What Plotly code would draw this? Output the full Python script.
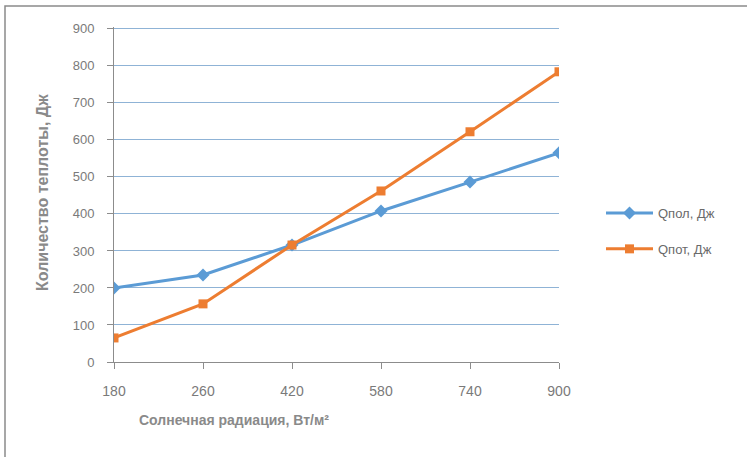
import plotly.graph_objects as go

# Solar radiation levels (category axis), W/m²
radiation = ["180", "260", "420", "580", "740", "900"]

# Heat values, J
q_useful = [200, 235, 316, 408, 486, 565]
q_loss = [65, 157, 316, 462, 622, 784]

series_names = ["Qпол, Дж", "Qпот, Дж"]
y_ticks = [0, 100, 200, 300, 400, 500, 600, 700, 800, 900]
y_max = 905

FONT = "Liberation Sans"
TEXT = "#7a7a7a"
AXIS = "#8c8c8c"
GRID = "#8fb3d6"

# plot area in pixels: x 114..559, y 27..362
L, R, T, B = 114, 559, 27, 362


def px_x(x):
    return (x - L) / (R - L)


def px_y(y):
    return (B - y) / (B - T)


fig = go.Figure()
fig.add_trace(go.Scatter(
    x=radiation, y=q_useful, name=series_names[0], mode="lines+markers",
    legendgroup="a",
    line=dict(color="#5b9bd5", width=3),
    marker=dict(symbol="diamond", size=10, color="#5b9bd5"),
))
fig.add_trace(go.Scatter(
    x=radiation, y=q_loss, name=series_names[1], mode="lines+markers",
    legendgroup="b",
    line=dict(color="#ed7d31", width=3),
    marker=dict(symbol="square", size=9, color="#ed7d31"),
))

fig.update_layout(
    width=747, height=457,
    margin=dict(l=L, r=747 - R, t=T, b=457 - B),
    paper_bgcolor="white", plot_bgcolor="white",
    font=dict(family=FONT, color=TEXT, size=12),
    showlegend=True,
    legend=dict(
        x=px_x(601), y=px_y(231), xanchor="left", yanchor="middle",
        font=dict(family=FONT, size=13, color="#6a6a6a"),
        traceorder="grouped", tracegroupgap=16, itemwidth=47,
    ),
    xaxis=dict(
        type="category", range=[0, 5],
        showline=True, linecolor=AXIS, linewidth=1,
        ticks="outside", ticklen=6, tickcolor=AXIS,
        showgrid=False, zeroline=False,
        ticklabelstandoff=10,
        tickfont=dict(family=FONT, size=14, color=TEXT),
    ),
    yaxis=dict(
        range=[0, y_max], tickvals=y_ticks,
        showline=True, linecolor=AXIS, linewidth=1,
        ticks="outside", ticklen=6, tickcolor=AXIS,
        showgrid=True, gridcolor=GRID, gridwidth=1, zeroline=False,
        ticklabelstandoff=10,
        tickfont=dict(family=FONT, size=13, color=TEXT),
    ),
    annotations=[
        dict(text="<b>Солнечная радиация, Вт/м²</b>", xref="paper", yref="paper",
             x=px_x(234), y=px_y(420), xanchor="center", yanchor="middle",
             showarrow=False, font=dict(family=FONT, size=14, color="#8a8a8a")),
        dict(text="<b>Количество теплоты, Дж</b>", xref="paper", yref="paper",
             x=px_x(42), y=px_y(193), xanchor="center", yanchor="middle",
             textangle=-90, showarrow=False,
             font=dict(family=FONT, size=16, color="#8a8a8a")),
    ],
    shapes=[dict(
        type="rect", xref="paper", yref="paper",
        x0=px_x(5), x1=px_x(760), y0=px_y(470), y1=px_y(6),
        line=dict(color="#8a8a8a", width=1.5), fillcolor="rgba(0,0,0,0)",
        layer="below",
    )],
)

fig.write_html("out.html")
